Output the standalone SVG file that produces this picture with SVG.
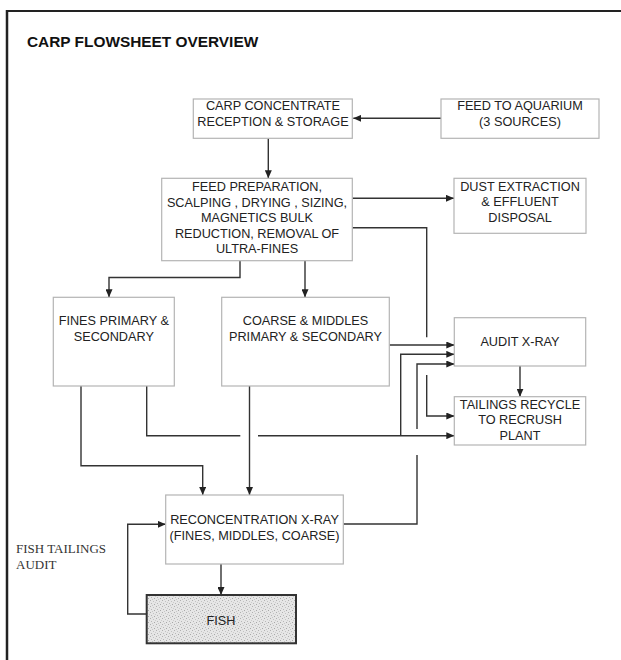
<svg xmlns="http://www.w3.org/2000/svg" width="621" height="660" viewBox="0 0 621 660">
<style>
.box{fill:#fff;stroke:#b4b4b4;stroke-width:1.2}
.t{font-family:"Liberation Sans",Arial,sans-serif;font-size:12.7px;fill:#222;text-anchor:middle}
.c{fill:none;stroke:#333;stroke-width:1.4}
.ca{fill:none;stroke:#333;stroke-width:1.4;marker-end:url(#arr)}
.frame{stroke:#222;fill:none}
</style>
<defs>
<marker id="arr" markerWidth="8" markerHeight="7" refX="8" refY="3.5" orient="auto" markerUnits="userSpaceOnUse">
<path d="M0,0 L8,3.5 L0,7 z" fill="#222"/>
</marker>
<pattern id="stip" width="6" height="6" patternUnits="userSpaceOnUse">
<rect width="6" height="6" fill="#e6e6e6"/>
<rect x="0" y="0" width="1" height="1" fill="#b0b0b0"/>
<rect x="3" y="1" width="1" height="1" fill="#c2c2c2"/>
<rect x="1" y="3" width="1" height="1" fill="#b8b8b8"/>
<rect x="4" y="4" width="1" height="1" fill="#a8a8a8"/>
<rect x="5" y="2" width="1" height="1" fill="#cccccc"/>
<rect x="2" y="5" width="1" height="1" fill="#c6c6c6"/>
</pattern>
</defs>
<rect width="621" height="660" fill="#fff"/>
<line class="frame" x1="6" y1="11" x2="621" y2="11" stroke-width="2.2"/>
<line class="frame" x1="7" y1="10" x2="7" y2="660" stroke-width="2.5"/>
<text x="27" y="47" font-family="'Liberation Sans',Arial,sans-serif" font-size="15.4" font-weight="bold" fill="#111">CARP FLOWSHEET OVERVIEW</text>

<g id="connectors">
<path class="ca" d="M441,118.3 H353.3"/>
<path class="ca" d="M268.3,138.3 V178.3"/>
<path class="ca" d="M352.3,198.3 H454"/>
<path class="c" d="M352.3,227.7 H426.7 V337.3"/>
<path class="ca" d="M426.7,375 V416 H454.3"/>
<path class="ca" d="M240,260.7 V277.5 H109 V297.3"/>
<path class="ca" d="M305,260.7 V297.3"/>
<path class="ca" d="M389.3,345 H454.3"/>
<path class="ca" d="M249.5,386 V495"/>
<path class="ca" d="M81,386 V465.7 H202.7 V495"/>
<path class="c" d="M146.7,386 V435.7 H240.3"/>
<path class="ca" d="M258,435.7 H454.3"/>
<path class="ca" d="M400.7,435.7 V354.3 H454.3"/>
<path class="c" d="M343.3,524 H417 V455"/>
<path class="ca" d="M417,429 V364 H454.3"/>
<path class="ca" d="M520,366 V396.7"/>
<path class="ca" d="M221,564 V595"/>
<path class="ca" d="M146.7,614 H127.7 V524.3 H165.7"/>
</g>

<g id="carp-concentrate">
<rect class="box" x="193.3" y="99" width="159" height="39.3"/>
<text class="t" x="273" y="110.2">CARP CONCENTRATE</text>
<text class="t" x="273" y="126.2">RECEPTION &amp; STORAGE</text>
</g>
<g id="feed-aquarium">
<rect class="box" x="441" y="99" width="158" height="39.3"/>
<text class="t" x="520" y="110.2">FEED TO AQUARIUM</text>
<text class="t" x="520" y="126.2">(3 SOURCES)</text>
</g>
<g id="feed-preparation">
<rect class="box" x="161.7" y="178.3" width="190.6" height="82.4"/>
<text class="t" x="257" y="190.5">FEED PREPARATION,</text>
<text class="t" x="257" y="206.8">SCALPING , DRYING , SIZING,</text>
<text class="t" x="257" y="221.8">MAGNETICS BULK</text>
<text class="t" x="257" y="237.8">REDUCTION, REMOVAL OF</text>
<text class="t" x="257" y="252.8">ULTRA-FINES</text>
</g>
<g id="dust-extraction">
<rect class="box" x="454" y="178.3" width="132" height="55"/>
<text class="t" x="520" y="190.5">DUST EXTRACTION</text>
<text class="t" x="520" y="206.2">&amp; EFFLUENT</text>
<text class="t" x="520" y="221.8">DISPOSAL</text>
</g>
<g id="fines">
<rect class="box" x="53.3" y="297.3" width="121" height="88.7"/>
<text class="t" x="113.8" y="325.2">FINES PRIMARY &amp;</text>
<text class="t" x="113.8" y="340.5">SECONDARY</text>
</g>
<g id="coarse-middles">
<rect class="box" x="221.7" y="297.3" width="167.6" height="88.7"/>
<text class="t" x="305.5" y="325.2">COARSE &amp; MIDDLES</text>
<text class="t" x="305.5" y="340.5">PRIMARY &amp; SECONDARY</text>
</g>
<g id="audit-xray">
<rect class="box" x="454.3" y="317.7" width="131.4" height="48.3"/>
<text class="t" x="520" y="345.5">AUDIT X-RAY</text>
</g>
<g id="tailings-recycle">
<rect class="box" x="454.3" y="396.7" width="131.4" height="48.3"/>
<text class="t" x="520" y="408.8">TAILINGS RECYCLE</text>
<text class="t" x="520" y="423.8">TO RECRUSH</text>
<text class="t" x="520" y="439.5">PLANT</text>
</g>
<g id="reconcentration">
<rect class="box" x="165.7" y="495" width="177.6" height="69"/>
<text class="t" x="254.5" y="523.5">RECONCENTRATION X-RAY</text>
<text class="t" x="254.5" y="539.5">(FINES, MIDDLES, COARSE)</text>
</g>
<g id="fish">
<rect x="146.7" y="595" width="149.3" height="48.3" fill="url(#stip)" stroke="#333" stroke-width="2"/>
<text class="t" x="221" y="624.5">FISH</text>
</g>
<g id="fish-tailings-label">
<text x="16" y="552.7" font-family="'Liberation Serif','Times New Roman',serif" font-size="13" fill="#333">FISH TAILINGS</text>
<text x="16" y="568.7" font-family="'Liberation Serif','Times New Roman',serif" font-size="13" fill="#333">AUDIT</text>
</g>
</svg>
